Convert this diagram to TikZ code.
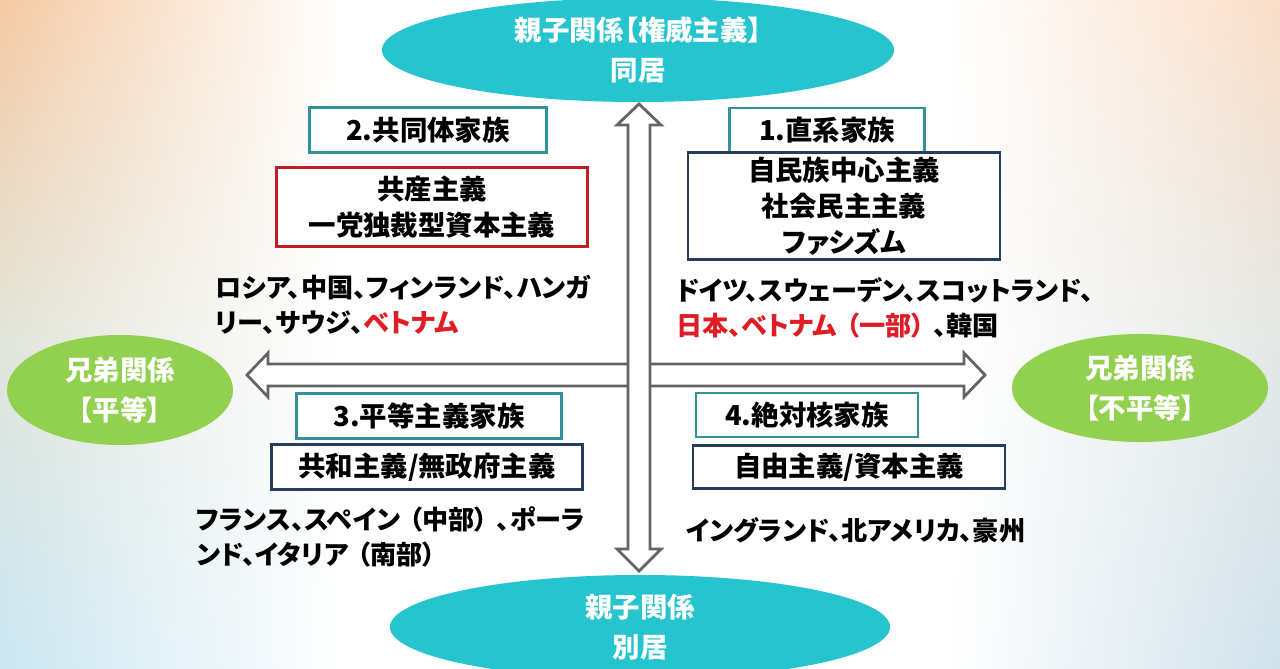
\documentclass[tikz,border=0pt]{standalone}
\usepackage{fontspec}
\setmainfont{Noto Sans CJK JP}[RawFeature=+palt]
\usepackage{tikz}
\usetikzlibrary{shapes.geometric}
\definecolor{oyacyan}{RGB}{38,196,206}
\definecolor{kyogreen}{RGB}{146,208,80}
\definecolor{famteal}{RGB}{52,146,150}
\definecolor{ideonavy}{RGB}{37,62,92}
\definecolor{ideored}{RGB}{192,30,36}
\definecolor{redtext}{RGB}{222,30,36}
\definecolor{arrowgray}{RGB}{100,100,100}
\definecolor{bgTL}{RGB}{245,202,164}
\definecolor{bgML}{RGB}{226,229,218}
\definecolor{bgBL}{RGB}{202,230,242}
\definecolor{bgTR}{RGB}{250,222,200}
\definecolor{bgMR}{RGB}{228,232,230}
\definecolor{bgBR}{RGB}{208,226,236}
\newcommand\pgap{\hspace{0.35em}}
\tikzset{
every node/.style={ % bold Japanese text everywhere
font=\bfseries\fontsize{19.5}{25.6}\selectfont},
axisend/.style={ % ellipses at the ends of the axes
ellipse, inner sep=0pt, text=white, align=center,
font=\bfseries\fontsize{19.5}{28.5}\selectfont},
famtitle/.style={ % family type titles
draw=famteal, line width=2pt, fill=white, inner sep=0pt},
ideobox/.style={ % ideology boxes
draw=ideonavy, line width=1.8pt, fill=white, inner sep=0pt, align=center},
countries/.style={anchor=west, align=left, inner sep=0pt,
font=\bfseries\fontsize{18.6}{25.2}\selectfont},
blockarrow/.style={draw=arrowgray, fill=white, line width=2pt, line join=miter}}

\begin{document}
\begin{tikzpicture}[x=0.025cm, y=-0.025cm]
\useasboundingbox (0,0) rectangle (1280,669);
% background
\fill[white] (0,0) rectangle (1280,669);
\foreach \i in {0,...,66}{
  \pgfmathtruncatemacro\pa{max(0,min(100,\i*100/33))}
  \pgfmathtruncatemacro\pb{max(0,min(100,(\i-33)*100/33))}
  \colorlet{stripL}{bgML!\pa!bgTL}
  \colorlet{stripL}{bgBL!\pb!stripL}
  \colorlet{stripR}{bgMR!\pa!bgTR}
  \colorlet{stripR}{bgBR!\pb!stripR}
  \fill[left color=stripL, middle color=stripL!45!white, right color=white] (0,10*\i) rectangle (340,10*\i+10.6);
  \fill[left color=white, middle color=stripR!45!white, right color=stripR] (950,10*\i) rectangle (1280,10*\i+10.6);
}
% arrow tips
\coordinate (htip) at (247,375);
\coordinate (vtip) at (639,104);
\draw[blockarrow] (htip) -- ++(21,-22) -- ++(0,11) -- ++(696,0) -- ++(0,-11) -- ++(21,22)
  -- ++(-21,22) -- ++(0,-11) -- ++(-696,0) -- ++(0,11) -- cycle;
\draw[blockarrow] (vtip) -- ++(22,21) -- ++(-11,0) -- ++(0,424) -- ++(11,0) -- ++(-22,22)
  -- ++(-22,-22) -- ++(11,0) -- ++(0,-424) -- ++(-11,0) -- cycle;
% axis ends
\node[axisend, fill=oyacyan, minimum width=12.8cm, minimum height=2.6cm] (auth) at (638,50) {親子関係【権威主義】\\同居};
\node[axisend, fill=oyacyan, minimum width=12.5cm, minimum height=2.6cm] (sep) at (640,627) {親子関係\\別居};
\node[axisend, fill=kyogreen, minimum width=5.65cm, minimum height=2.75cm] (eq) at (120,390) {兄弟関係\\【平等】};
\node[axisend, fill=kyogreen, minimum width=6.4cm, minimum height=2.7cm] (ineq) at (1140,388) {兄弟関係\\【不平等】};
% family types
\node[famtitle, minimum width=5.925cm, minimum height=1.125cm] (fam2) at (428,130) {2.共同体家族};
\node[famtitle, minimum width=4.875cm, minimum height=1.1cm] (fam1) at (827,130) {1.直系家族};
\node[famtitle, minimum width=6.625cm, minimum height=1.125cm] (fam3) at (429,416) {3.平等主義家族};
\node[famtitle, minimum width=5.55cm, minimum height=1.1cm] (fam4) at (807,415) {4.絶対核家族};
% ideologies
\node[ideobox, draw=ideored, minimum width=7.775cm, minimum height=1.975cm] (ideo2) at (432,207) {共産主義\\一党独裁型資本主義};
\node[ideobox, minimum width=7.8cm, minimum height=2.675cm] (ideo1) at (844,206) {自民族中心主義\\社会民主主義\\ファシズム};
\node[ideobox, minimum width=7.775cm, minimum height=1.125cm] (ideo3) at (427,467) {共和主義/無政府主義};
\node[ideobox, minimum width=7.8cm, minimum height=1.075cm] (ideo4) at (849,467) {自由主義/資本主義};
% countries
\node[countries] (land2) at (215,305) {ロシア、中国、フィンランド、ハンガ\\リー、サウジ、{\color{redtext}ベトナム}};
\node[countries] (land1) at (676,308) {ドイツ、スウェーデン、スコットランド、\\{\color{redtext}日本、ベトナム\pgap（一部）}\pgap、韓国};
\node[countries] (land3) at (196,537) {フランス、スペイン\pgap（中部）\pgap、ポーラ\\ンド、イタリア\pgap（南部）};
\node[countries] (land4) at (686,530) {イングランド、北アメリカ、豪州};
\end{tikzpicture}
\end{document}
